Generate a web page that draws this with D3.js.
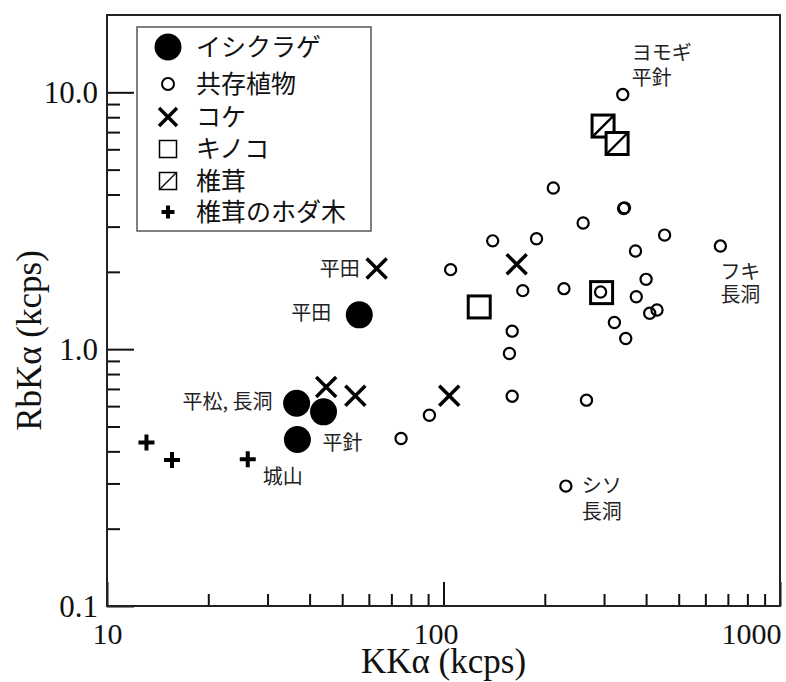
<!DOCTYPE html>
<html><head><meta charset="utf-8">
<script src="https://cdn.jsdelivr.net/npm/d3@7"></script>
<style>
html,body{margin:0;padding:0;background:#fff;}
svg{display:block;}
</style></head>
<body>
<svg id="chart" width="786" height="682"></svg>
<script>
// ---- data (KKα kcps, RbKα kcps) ----
const ishikurage = [[56.2,1.36],[36.6,0.616],[44.0,0.570],[36.8,0.445]];
const plants = [
  [341,9.8],[212,4.24],[343,3.53],[345,3.55],[260,3.10],[140,2.64],[189,2.69],
  [454,2.78],[372,2.41],[665,2.52],[105,2.04],[172,1.69],[228,1.72],[293,1.67],
  [400,1.87],[374,1.60],[410,1.38],[431,1.42],[322,1.27],[348,1.10],[160,1.175],
  [157,0.962],[160,0.656],[266,0.633],[90.8,0.553],[74.8,0.449],[231,0.293]
];
const moss = [[63.3,2.06],[165,2.14],[44.8,0.713],[54.7,0.658],[104,0.658]];
const mushroom = [[127.7,1.46],[295,1.66]];
const shiitake = [[298,7.39],[328,6.32]];
const hodagi = [[13.1,0.433],[15.6,0.370],[26.2,0.373]];

const legendLabels = ["イシクラゲ","共存植物","コケ","キノコ","椎茸","椎茸のホダ木"];
const xMajorTicks = [10,100,1000];
const xTickLabels = ["10","100","1000"];
const xMinorTicks = [20,30,40,50,60,70,80,90,200,300,400,500,600,700,800,900];
const yMajorTicks = [0.1,1,10];
const yTickLabels = ["0.1","1.0","10.0"];
const yMinorTicks = [0.2,0.3,0.4,0.5,0.6,0.7,0.8,0.9,2,3,4,5,6,7,8,9];
const xTitle = "KKα (kcps)";
const yTitle = "RbKα (kcps)";
// annotations: anchor point (data) and text lines
const annotations = [
  {at:[341,9.8], lines:["ヨモギ","平針"]},
  {at:[665,2.52], lines:["フキ","長洞"]},
  {at:[231,0.293], lines:["シソ","長洞"]},
  {at:[63.3,2.06], lines:["平田"]},
  {at:[56.2,1.36], lines:["平田"]},
  {at:[36.6,0.616], lines:["平松, 長洞"]},
  {at:[36.8,0.445], lines:["平針"]},
  {at:[26.2,0.373], lines:["城山"]}
];

// ---- layout / style ----
const L = 107, T = 15, R = 780, B = 606;
const annStyle = [
  {dx:9, dy:[-42,-17], anchor:"start"},
  {dx:0, dy:[26,49], anchor:"start"},
  {dx:16, dy:[0,26], anchor:"start"},
  {dx:-17, dy:[0], anchor:"end"},
  {dx:-28, dy:[-2], anchor:"end"},
  {dx:-24, dy:[-1], anchor:"end"},
  {dx:25, dy:[3], anchor:"start"},
  {dx:15, dy:[18], anchor:"start"}
];
const serif = "'Liberation Serif','Times New Roman',serif";
const jp = "'Noto Sans CJK JP','Noto Sans',sans-serif";
const ink = "#111";

const svg = d3.select("#chart");
const x = d3.scaleLog().domain([10,1000]).range([L,R]);
const y = d3.scaleLog().domain([0.1,20]).range([B,T]);

// axes
function styleAxis(g){
  g.select(".domain").remove();
  g.selectAll(".tick line").attr("stroke",ink).attr("stroke-width",2);
}
svg.append("g").attr("transform",`translate(0,${B})`)
  .call(d3.axisBottom(x).tickValues(xMinorTicks).tickSize(-12).tickFormat(""))
  .call(styleAxis);
const xa = svg.append("g").attr("transform",`translate(0,${B})`)
  .call(d3.axisBottom(x).tickValues(xMajorTicks).tickSize(-24).tickPadding(0)
    .tickFormat((d,i)=>xTickLabels[i]))
  .call(styleAxis);
xa.selectAll(".tick text").attr("font-family",serif).attr("font-size",30)
  .attr("fill",ink).attr("y",38).attr("dy",0)
  .attr("text-anchor",(d,i)=> i===xMajorTicks.length-1 ? "end" : "middle")
  .attr("x",(d,i)=> i===xMajorTicks.length-1 ? R - x(d) + 1 : (i===1 ? -8 : 0));

svg.append("g").attr("transform",`translate(${L},0)`)
  .call(d3.axisLeft(y).tickValues(yMinorTicks).tickSize(-13).tickFormat(""))
  .call(styleAxis);
const ya = svg.append("g").attr("transform",`translate(${L},0)`)
  .call(d3.axisLeft(y).tickValues(yMajorTicks).tickSize(-27).tickPadding(9)
    .tickFormat((d,i)=>yTickLabels[i]))
  .call(styleAxis);
ya.selectAll(".tick text").attr("font-family",serif).attr("font-size",31)
  .attr("fill",ink).attr("x",-9).attr("dy","0.34em");

// frame
svg.append("rect").attr("x",L).attr("y",T).attr("width",R-L).attr("height",B-T)
  .attr("fill","none").attr("stroke","#222").attr("stroke-width",2);

// titles
svg.append("text").attr("x",(L+R)/2).attr("y",673).attr("text-anchor","middle")
  .attr("font-family",serif).attr("font-size",35).attr("fill",ink).text(xTitle);
svg.append("text").attr("transform",`translate(41,${(T+B)/2 + 30}) rotate(-90)`)
  .attr("text-anchor","middle").attr("font-family",serif).attr("font-size",35)
  .attr("fill",ink).text(yTitle);

// symbol drawers
function drawCircleBig(g,cx,cy,r){ g.append("circle").attr("cx",cx).attr("cy",cy).attr("r",r).attr("fill","#000"); }
function drawCircleOpen(g,cx,cy,r,sw){ g.append("circle").attr("cx",cx).attr("cy",cy).attr("r",r)
  .attr("fill","none").attr("stroke","#000").attr("stroke-width",sw); }
function drawX(g,cx,cy,h,sw){
  g.append("path").attr("d",`M${cx-h},${cy-h}L${cx+h},${cy+h}M${cx-h},${cy+h}L${cx+h},${cy-h}`)
   .attr("stroke","#000").attr("stroke-width",sw).attr("fill","none");
}
function drawSquare(g,cx,cy,h,sw,hatch){
  g.append("rect").attr("x",cx-h).attr("y",cy-h).attr("width",2*h).attr("height",2*h)
   .attr("fill","#fff").attr("fill-opacity",hatch?1:0).attr("stroke","#000").attr("stroke-width",sw);
  if(hatch) g.append("path").attr("d",`M${cx-h},${cy+h}L${cx+h},${cy-h}`)
   .attr("stroke","#000").attr("stroke-width",sw*0.8);
}
function drawPlus(g,cx,cy,h,sw){
  g.append("path").attr("d",`M${cx-h},${cy}L${cx+h},${cy}M${cx},${cy-h}L${cx},${cy+h}`)
   .attr("stroke","#000").attr("stroke-width",sw);
}

const pg = svg.append("g");
plants.forEach(d=>drawCircleOpen(pg,x(d[0]),y(d[1]),5.6,2.2));
mushroom.forEach(d=>drawSquare(pg,x(d[0]),y(d[1]),11,3,false));
shiitake.forEach(d=>drawSquare(pg,x(d[0]),y(d[1]),11,3,true));
moss.forEach(d=>drawX(pg,x(d[0]),y(d[1]),10,3.5));
hodagi.forEach(d=>drawPlus(pg,x(d[0]),y(d[1]),8,4));
ishikurage.forEach(d=>drawCircleBig(pg,x(d[0]),y(d[1]),13.5));

// annotations
annotations.forEach((a,i)=>{
  const s = annStyle[i];
  a.lines.forEach((t,j)=>{
    svg.append("text").attr("x",x(a.at[0])+s.dx).attr("y",y(a.at[1])+s.dy[j])
      .attr("dy","0.36em").attr("text-anchor",s.anchor)
      .attr("font-family",jp).attr("font-size",20).attr("fill","#222").text(t);
  });
});

// legend
const lg = svg.append("g");
lg.append("rect").attr("x",137).attr("y",27).attr("width",234).attr("height",204)
  .attr("fill","#fff").attr("stroke","#555").attr("stroke-width",1.5);
const rowY = [47,84,117,149,181,212];
const sx = 168;
drawCircleBig(lg,sx,rowY[0],13.5);
drawCircleOpen(lg,sx,rowY[1],6,2);
drawX(lg,sx,rowY[2],9,3.5);
drawSquare(lg,sx,rowY[3],8.5,1.5,false);
drawSquare(lg,sx,rowY[4],8.5,1.5,true);
drawPlus(lg,sx,rowY[5],6.5,4);
legendLabels.forEach((t,i)=>{
  lg.append("text").attr("x",196).attr("y",rowY[i]).attr("dy","0.36em")
    .attr("font-family",jp).attr("font-size",25).attr("fill",ink).text(t);
});
</script>
</body></html>
